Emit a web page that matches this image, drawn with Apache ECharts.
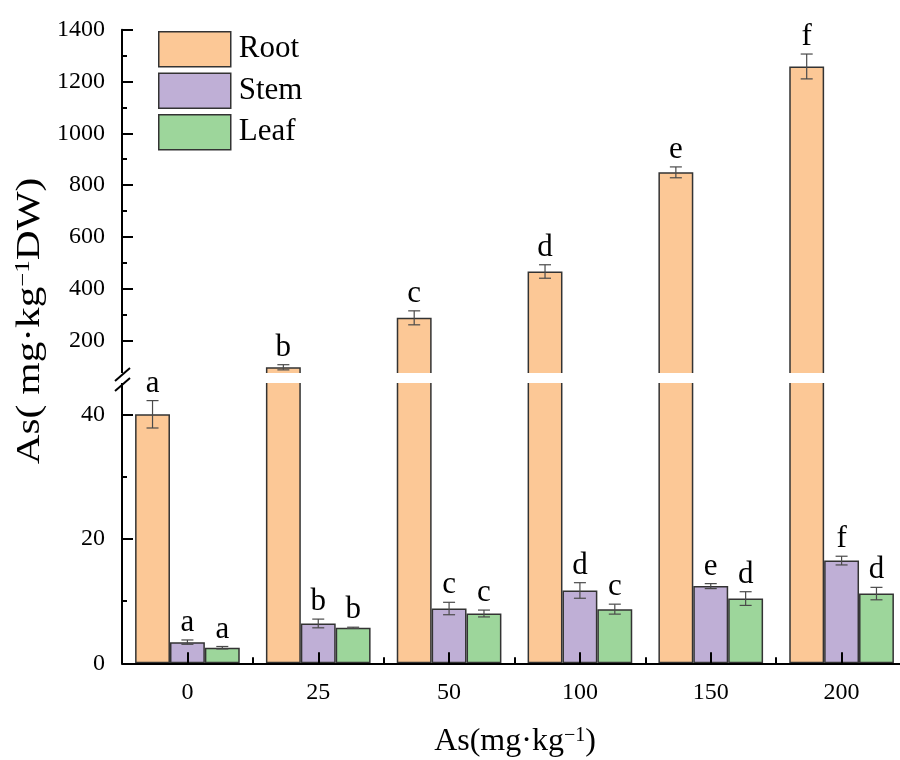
<!DOCTYPE html>
<html><head><meta charset="utf-8">
<script src="https://cdn.jsdelivr.net/npm/echarts@6/dist/echarts.min.js"></script>
<style>html,body{margin:0;padding:0;background:#fff}#c{width:900px;height:760px}</style>
</head><body><div id="c"></div>
<script>
const categories = ['0', '25', '50', '100', '150', '200'];
const seriesNames = ['Root', 'Stem', 'Leaf'];
const rootValues = [40, 96, 287, 466, 849, 1258];
const rootErrors = [2.2, 10, 27, 26, 21, 48];
const rootLetters = ['a', 'b', 'c', 'd', 'e', 'f'];
const stemValues = [3.4, 6.4, 8.8, 11.7, 12.4, 16.5];
const stemErrors = [0.35, 0.7, 1.0, 1.25, 0.4, 0.7];
const stemLetters = ['a', 'b', 'c', 'd', 'e', 'f'];
const leafValues = [2.5, 5.7, 8.0, 8.7, 10.4, 11.2];
const leafErrors = [0.2, 0.1, 0.55, 0.8, 1.1, 1.0];
const leafLetters = ['a', 'b', 'c', 'c', 'd', 'd'];
const upperTicks = [200, 400, 600, 800, 1000, 1200, 1400];
const upperMinorTicks = [300, 500, 700, 900, 1100, 1300];
const lowerTicks = [0, 20, 40];
const lowerMinorTicks = [10, 30];
const lowerRange = [0, 46];
const upperRange = [60, 1400];

const colors = ['#FCC896', '#BFAFD6', '#9DD69B'];
const F = '"Liberation Serif", "Times New Roman", serif';
const groups = [
  {values: rootValues, errors: rootErrors, letters: rootLetters},
  {values: stemValues, errors: stemErrors, letters: stemLetters},
  {values: leafValues, errors: leafErrors, letters: leafLetters}
];

const chart = echarts.init(document.getElementById('c'), null, {renderer: 'canvas'});

const GL = 122, GW = 785;
const lowerGrid = {left: GL, width: GW, top: 376.95, height: 286.35, outerBoundsMode: 'none'};
const upperGrid = {left: GL, width: GW, top: 29.7, height: 346.9, outerBoundsMode: 'none'};

function mainY(grid, range, ticks) {
  return {
    type: 'value', gridIndex: grid, min: range[0], max: range[1], position: 'left', z: 10,
    axisLine: {show: true, lineStyle: {color: '#000', width: 2}},
    axisTick: {show: true, inside: true, length: 11, customValues: ticks, lineStyle: {color: '#000', width: 2}},
    axisLabel: {show: true, margin: 17, customValues: ticks, formatter: function (v) { return String(v); },
      fontSize: 24, fontFamily: F, color: '#000'},
    splitLine: {show: false}
  };
}
function minorY(grid, range, ticks) {
  return {
    type: 'value', gridIndex: grid, min: range[0], max: range[1], position: 'left', z: 10,
    axisLine: {show: false},
    axisTick: {show: true, inside: true, length: 5, customValues: ticks, lineStyle: {color: '#000', width: 2}},
    axisLabel: {show: false},
    splitLine: {show: false}
  };
}

function barSeries(xIdx, yIdx) {
  return groups.map((g, s) => ({
    type: 'bar', name: seriesNames[s], xAxisIndex: xIdx, yAxisIndex: yIdx,
    data: g.values, barGap: '0%', barCategoryGap: '20%',
    itemStyle: {color: colors[s], borderColor: '#333', borderWidth: 1.5},
    clip: true, z: 2
  }));
}

function errSeries(xIdx, yIdx, lo, hi) {
  const data = [];
  const letters = [];
  groups.forEach((g, s) => g.values.forEach((v, i) => {
    if (v >= lo && v <= hi) { data.push([i, v, g.errors[i], s]); letters.push(g.letters[i]); }
  }));
  return {
    type: 'custom', xAxisIndex: xIdx, yAxisIndex: yIdx, data: data, z: 4, silent: true,
    renderItem: function (params, api) {
      const i = api.value(0), v = api.value(1), e = api.value(2), s = api.value(3);
      const catW = api.size([1, 0])[0];
      const bw = catW * 0.8 / 3;
      const c = api.coord([i, v]);
      const x = c[0] + (s - 1) * bw;
      const yTop = api.coord([i, v + e])[1];
      const yBot = api.coord([i, v - e])[1];
      const cap = 6;
      const ls = {stroke: '#4a4a4a', lineWidth: 1.2};
      return {type: 'group', children: [
        {type: 'line', shape: {x1: x, y1: yTop, x2: x, y2: yBot}, style: ls},
        {type: 'line', shape: {x1: x - cap, y1: yTop, x2: x + cap, y2: yTop}, style: ls},
        {type: 'line', shape: {x1: x - cap, y1: yBot, x2: x + cap, y2: yBot}, style: ls},
        {type: 'text', x: x, y: yTop - 1.5, style: {text: letters[params.dataIndex], fontSize: 31, fontFamily: F, fill: '#000', align: 'center', verticalAlign: 'bottom'}}
      ]};
    }
  };
}

const option = {
  animation: false,
  backgroundColor: '#fff',
  textStyle: {fontFamily: F},
  grid: [lowerGrid, upperGrid],
  legend: {
    data: seriesNames, orient: 'vertical', left: 158, top: 31, padding: 0,
    itemWidth: 72, itemHeight: 35, itemGap: 5,
    icon: 'rect',
    itemStyle: {borderColor: '#333', borderWidth: 1.5},
    textStyle: {fontSize: 31, lineHeight: 35, fontFamily: F, color: '#000', padding: [0, 0, 0, 3]}
  },
  xAxis: [
    {type: 'category', gridIndex: 0, data: categories, position: 'bottom', z: 10,
      axisLine: {show: true, lineStyle: {color: '#000', width: 2}},
      axisTick: {show: true, inside: true, length: 6, alignWithLabel: false, lineStyle: {color: '#000', width: 2}},
      axisLabel: {margin: 17, fontSize: 24, fontFamily: F, color: '#000'}},
    {type: 'category', gridIndex: 1, data: categories, show: false},
    {type: 'category', gridIndex: 0, data: categories, position: 'bottom', z: 10,
      axisLine: {show: false},
      axisTick: {show: true, inside: true, length: 11, alignWithLabel: true, lineStyle: {color: '#000', width: 2}},
      axisLabel: {show: false}}
  ],
  yAxis: [
    mainY(0, lowerRange, lowerTicks),
    minorY(0, lowerRange, lowerMinorTicks),
    mainY(1, upperRange, upperTicks),
    minorY(1, upperRange, upperMinorTicks)
  ],
  series: [].concat(
    barSeries(0, 0),
    barSeries(1, 2),
    [errSeries(0, 0, lowerRange[0], lowerRange[1]), errSeries(1, 2, upperRange[0], upperRange[1])]
  ),
  graphic: [
    {type: 'rect', z: 3, shape: {x: 124, y: 373, width: 780, height: 10}, style: {fill: '#fff'}},
    {type: 'rect', z: 100, shape: {x: 110, y: 373, width: 14, height: 10}, style: {fill: '#fff'}},
    {type: 'line', z: 101, shape: {x1: 115, y1: 381, x2: 130, y2: 368}, style: {stroke: '#000', lineWidth: 2}},
    {type: 'line', z: 101, shape: {x1: 115, y1: 391, x2: 130, y2: 378}, style: {stroke: '#000', lineWidth: 2}},
    {type: 'text', z: 101, x: 30, y: 321, rotation: Math.PI / 2, scaleX: 1.25,
      style: {text: '{m|As( mg·kg}{s|\u22121}{m|DW)}', align: 'center', verticalAlign: 'middle',
        rich: {m: {fontSize: 33, fontFamily: F, fill: '#000'}, s: {fontSize: 20, fontFamily: F, fill: '#000', verticalAlign: 'top'}}}},
    {type: 'text', z: 101, x: 515, y: 742,
      style: {text: '{m|As(mg·kg}{s|\u22121}{m|)}', align: 'center', verticalAlign: 'middle',
        rich: {m: {fontSize: 32, fontFamily: F, fill: '#000'}, s: {fontSize: 20, fontFamily: F, fill: '#000', verticalAlign: 'top'}}}}
  ]
};
chart.setOption(option);
</script>
</body></html>
